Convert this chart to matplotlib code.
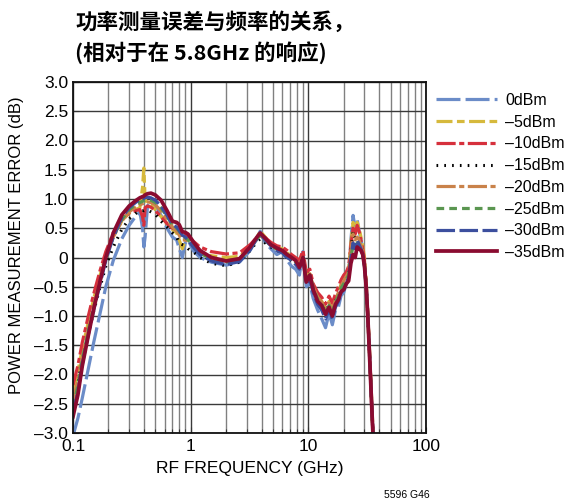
import matplotlib
matplotlib.use("Agg")
import matplotlib.pyplot as plt
from matplotlib.ticker import FixedLocator, NullFormatter

# Frequency points (GHz) shared by all traces
freq = [0.1, 0.11, 0.12, 0.135, 0.15,
        0.17, 0.19, 0.22, 0.26, 0.3,
        0.34, 0.37, 0.39, 0.40, 0.41,
        0.43, 0.46, 0.5, 0.56, 0.63,
        0.7, 0.76, 0.8, 0.85, 0.9,
        0.95, 1.05, 1.2, 1.5, 2.0,
        2.6, 3.2, 3.6, 3.9, 4.3,
        4.8, 5.4, 6.0, 6.6, 7.2,
        7.8, 8.4, 9.0, 9.6, 10.3,
        11, 12, 13, 14, 15,
        16, 17, 18, 19, 20,
        21, 22, 23, 24, 25,
        26, 27, 28, 29, 30,
        31, 32, 33, 34, 35,
        36]

err_0dbm = [-3.05, -2.75, -2.4, -1.9, -1.45,
            -0.95, -0.5, -0.05, 0.32, 0.55,
            0.7, 0.78, 0.5, 0.18, 0.35,
            0.88, 0.98, 0.9, 0.72, 0.5,
            0.35, 0.3, 0.15, 0.0, 0.25,
            0.3, 0.12, 0.0, -0.08, -0.13,
            -0.08, 0.12, 0.3, 0.45, 0.25,
            0.15, 0.05, 0.1, -0.05, -0.15,
            -0.2, -0.3, 0.1, -0.5, -0.45,
            -0.7, -0.9, -1.05, -1.2, -0.95,
            -1.15, -0.9, -0.85, -0.65, -0.6,
            -0.45, -0.3, 0.3, 0.72, 0.5,
            0.65, 0.45, 0.3, 0.15, -0.1,
            -0.45, -0.95, -1.55, -2.15, -2.75,
            -3.3]

err_m5dbm = [-2.3, -1.95, -1.55, -1.1, -0.7,
             -0.3, 0.05, 0.38, 0.62, 0.76,
             0.82, 0.85, 1.2, 1.53, 1.0,
             0.92, 0.9, 0.82, 0.7, 0.58,
             0.48, 0.42, 0.3, 0.15, 0.3,
             0.35, 0.22, 0.1, 0.03, 0.0,
             0.02, 0.18, 0.32, 0.45, 0.35,
             0.25, 0.18, 0.15, 0.08, 0.02,
             -0.05, -0.12, 0.05, -0.3, -0.28,
             -0.5, -0.65, -0.75, -0.88, -0.75,
             -0.9, -0.7, -0.62, -0.45, -0.35,
             -0.3, -0.2, 0.25, 0.6, 0.45,
             0.6, 0.5, 0.35, 0.2, 0.0,
             -0.4, -0.9, -1.5, -2.1, -2.7,
             -3.3]

err_m10dbm = [-2.18, -1.85, -1.45, -1.0, -0.62,
              -0.22, 0.1, 0.42, 0.65, 0.76,
              0.8, 0.82, 0.7, 0.55, 0.85,
              0.88, 0.86, 0.8, 0.7, 0.58,
              0.5, 0.48, 0.42, 0.35, 0.38,
              0.38, 0.28, 0.18, 0.1, 0.06,
              0.08, 0.22, 0.33, 0.4, 0.34,
              0.26, 0.2, 0.18, 0.12, 0.05,
              0.0, -0.05, 0.12, -0.25, -0.2,
              -0.45, -0.6, -0.68, -0.8, -0.66,
              -0.78, -0.62, -0.5, -0.38, -0.3,
              -0.25, -0.15, 0.2, 0.5, 0.4,
              0.55, 0.45, 0.3, 0.15, -0.05,
              -0.45, -0.95, -1.55, -2.15, -2.75,
              -3.3]

err_m15dbm = [-2.5, -2.15, -1.75, -1.3, -0.92,
              -0.5, -0.15, 0.18, 0.48, 0.66,
              0.75, 0.8, 0.8, 0.8, 0.81,
              0.81, 0.78, 0.74, 0.62, 0.52,
              0.42, 0.35, 0.25, 0.22, 0.2,
              0.15, 0.1, 0.0, -0.1, -0.14,
              -0.08, 0.12, 0.25, 0.32, 0.25,
              0.18, 0.12, 0.08, 0.02, -0.05,
              -0.1, -0.18, 0.0, -0.38, -0.32,
              -0.55, -0.72, -0.8, -0.92, -0.8,
              -0.92, -0.75, -0.65, -0.5, -0.4,
              -0.35, -0.28, 0.1, 0.45, 0.3,
              0.3, 0.28, 0.2, 0.08, -0.1,
              -0.5, -1.0, -1.6, -2.2, -2.8,
              -3.3]

err_m20dbm = [-2.45, -2.1, -1.7, -1.22, -0.82,
              -0.38, 0.0, 0.35, 0.62, 0.78,
              0.86, 0.9, 0.92, 0.93, 0.94,
              0.95, 0.94, 0.9, 0.8, 0.65,
              0.52, 0.45, 0.38, 0.3, 0.3,
              0.28, 0.2, 0.08, -0.02, -0.06,
              -0.03, 0.15, 0.3, 0.38, 0.3,
              0.22, 0.15, 0.12, 0.05, 0.0,
              -0.05, -0.12, 0.02, -0.35, -0.28,
              -0.5, -0.68, -0.76, -0.9, -0.78,
              -0.9, -0.72, -0.6, -0.48, -0.4,
              -0.32, -0.25, 0.1, 0.4, 0.3,
              0.35, 0.3, 0.2, 0.1, -0.1,
              -0.5, -1.0, -1.6, -2.2, -2.8,
              -3.3]

err_m25dbm = [-2.55, -2.2, -1.75, -1.25, -0.85,
              -0.4, -0.02, 0.36, 0.65, 0.82,
              0.9, 0.94, 0.96, 0.97, 0.98,
              0.99, 0.98, 0.94, 0.85, 0.7,
              0.56, 0.5, 0.45, 0.36, 0.34,
              0.3, 0.2, 0.08, -0.03, -0.08,
              -0.04, 0.15, 0.3, 0.38, 0.3,
              0.2, 0.14, 0.1, 0.03, -0.02,
              -0.08, -0.15, 0.0, -0.38, -0.3,
              -0.52, -0.72, -0.8, -0.95, -0.82,
              -0.95, -0.76, -0.66, -0.52, -0.45,
              -0.38, -0.3, 0.0, 0.2, 0.15,
              0.25, 0.2, 0.15, 0.05, -0.15,
              -0.5, -1.0, -1.6, -2.2, -2.8,
              -3.3]

err_m30dbm = [-2.65, -2.3, -1.82, -1.32, -0.9,
              -0.45, -0.05, 0.35, 0.68, 0.85,
              0.94, 0.99, 1.0, 1.01, 1.02,
              1.03, 1.02, 0.98, 0.88, 0.72,
              0.56, 0.52, 0.46, 0.38, 0.35,
              0.3, 0.18, 0.05, -0.06, -0.12,
              -0.07, 0.13, 0.3, 0.4, 0.3,
              0.2, 0.12, 0.08, 0.0, -0.05,
              -0.12, -0.2, -0.02, -0.45, -0.38,
              -0.6, -0.8, -0.9, -1.05, -0.9,
              -1.05, -0.85, -0.75, -0.6, -0.55,
              -0.45, -0.35, 0.0, 0.25, 0.15,
              0.3, 0.22, 0.15, 0.05, -0.15,
              -0.5, -1.0, -1.6, -2.2, -2.8,
              -3.3]

err_m35dbm = [-2.72, -2.35, -1.85, -1.33, -0.88,
              -0.4, 0.0, 0.42, 0.73, 0.88,
              0.97, 1.02, 1.04, 1.05, 1.07,
              1.09, 1.1, 1.07, 0.98, 0.8,
              0.62, 0.6, 0.56, 0.44, 0.43,
              0.4, 0.27, 0.12, 0.0, -0.06,
              -0.02, 0.18, 0.33, 0.42, 0.33,
              0.22, 0.16, 0.12, 0.05, 0.0,
              -0.05, -0.17, 0.0, -0.42, -0.3,
              -0.55, -0.75, -0.82, -0.97, -0.85,
              -1.0, -0.8, -0.72, -0.58, -0.55,
              -0.45, -0.4, -0.1, 0.05, 0.0,
              0.18, 0.15, 0.12, 0.05, -0.15,
              -0.5, -1.0, -1.6, -2.2, -2.8,
              -3.3]

labels = ["0dBm", "\u20135dBm", "\u201310dBm", "\u201315dBm",
          "\u201320dBm", "\u201325dBm", "\u201330dBm", "\u201335dBm"]
series = [err_0dbm, err_m5dbm, err_m10dbm, err_m15dbm,
          err_m20dbm, err_m25dbm, err_m30dbm, err_m35dbm]

colors = ["#6b8cc8", "#d6b93c", "#d6303c", "#000000",
          "#c9824a", "#5a9650", "#3c4f9e", "#8a0b30"]
styles = [(0, (7.5, 1.6)),
          (0, (5.0, 1.4, 2.4, 1.4)),
          (0, (6.0, 1.1, 1.6, 1.1)),
          (0, (0.55, 2.0)),
          (0, (6.0, 1.1, 1.6, 1.1)),
          (0, (2.4, 1.6)),
          (0, (5.8, 1.4)),
          "-"]
widths = [2.3, 2.3, 2.3, 2.2, 2.3, 2.3, 2.3, 2.7]

yticks = [3.0, 2.5, 2.0, 1.5, 1.0, 0.5, 0.0, -0.5, -1.0, -1.5, -2.0, -2.5, -3.0]
ytick_labels = ["3.0", "2.5", "2.0", "1.5", "1.0", "0.5", "0",
                "\u20130.5", "\u20131.0", "\u20131.5", "\u20132.0",
                "\u20132.5", "\u20133.0"]
xticks = [0.1, 1, 10, 100]
xtick_labels = ["0.1", "1", "10", "100"]

plt.rcParams["font.family"] = ["Liberation Sans", "DejaVu Sans"]

fig = plt.figure(figsize=(5.70, 5.03), dpi=100)
ax = fig.add_axes([73 / 570, 1 - 433 / 503, (426 - 73) / 570, (433 - 82) / 503])

for y, c, ls, lw, lab in zip(series, colors, styles, widths, labels):
    ax.plot(freq, y, color=c, linestyle=ls, linewidth=lw, label=lab,
            solid_joinstyle="round", dash_joinstyle="round")

ax.set_xscale("log")
ax.set_xlim(0.1, 100)
ax.set_ylim(-3.0, 3.0)

ax.xaxis.set_major_locator(FixedLocator(xticks))
ax.set_xticklabels(xtick_labels)
minor = [m * d for d in (0.1, 1, 10) for m in range(2, 10)]
ax.xaxis.set_minor_locator(FixedLocator(minor))
ax.xaxis.set_minor_formatter(NullFormatter())
ax.set_yticks(yticks)
ax.set_yticklabels(ytick_labels)

ax.grid(which="major", axis="both", color="#3a3a3a", linewidth=1.0)
ax.grid(which="minor", axis="x", color="#808080", linewidth=1.0)
ax.set_axisbelow(True)
ax.tick_params(which="both", direction="in", labelsize=12.5, length=4,
               width=0.8, color="#333333")
ax.tick_params(which="minor", length=3)
ax.tick_params(axis="x", pad=4)
for sp in ax.spines.values():
    sp.set_linewidth(1.3)
    sp.set_color("#111111")

ax.set_xlabel("RF FREQUENCY (GHz)", fontsize=12.5, labelpad=5)
fig.text(17 / 570, 1 - 245 / 503, "POWER MEASUREMENT ERROR (dB)",
         rotation=90, ha="center", va="center", fontsize=12)

leg = fig.legend(loc="upper left", bbox_to_anchor=(436 / 570, 1 - 93 / 503),
                 frameon=False, fontsize=11.5, handlelength=3.8,
                 handletextpad=0.55, labelspacing=0.42, borderaxespad=0,
                 borderpad=0)

cjk = ["Noto Sans CJK SC", "DejaVu Sans"]
fig.text(75 / 570, 1 - 22 / 503, "功率测量误差与频率的关系，", family=cjk,
         fontsize=15.5, fontweight="heavy", ha="left", va="center")
fig.text(75 / 570, 1 - 53 / 503, "(相对于在 5.8GHz 的响应)", family=cjk,
         fontsize=15.5, fontweight="heavy", ha="left", va="center")

fig.text(407 / 570, 1 - 495 / 503, "5596 G46", fontsize=7.5,
         ha="center", va="center")

fig.savefig("out.png", dpi=100)
